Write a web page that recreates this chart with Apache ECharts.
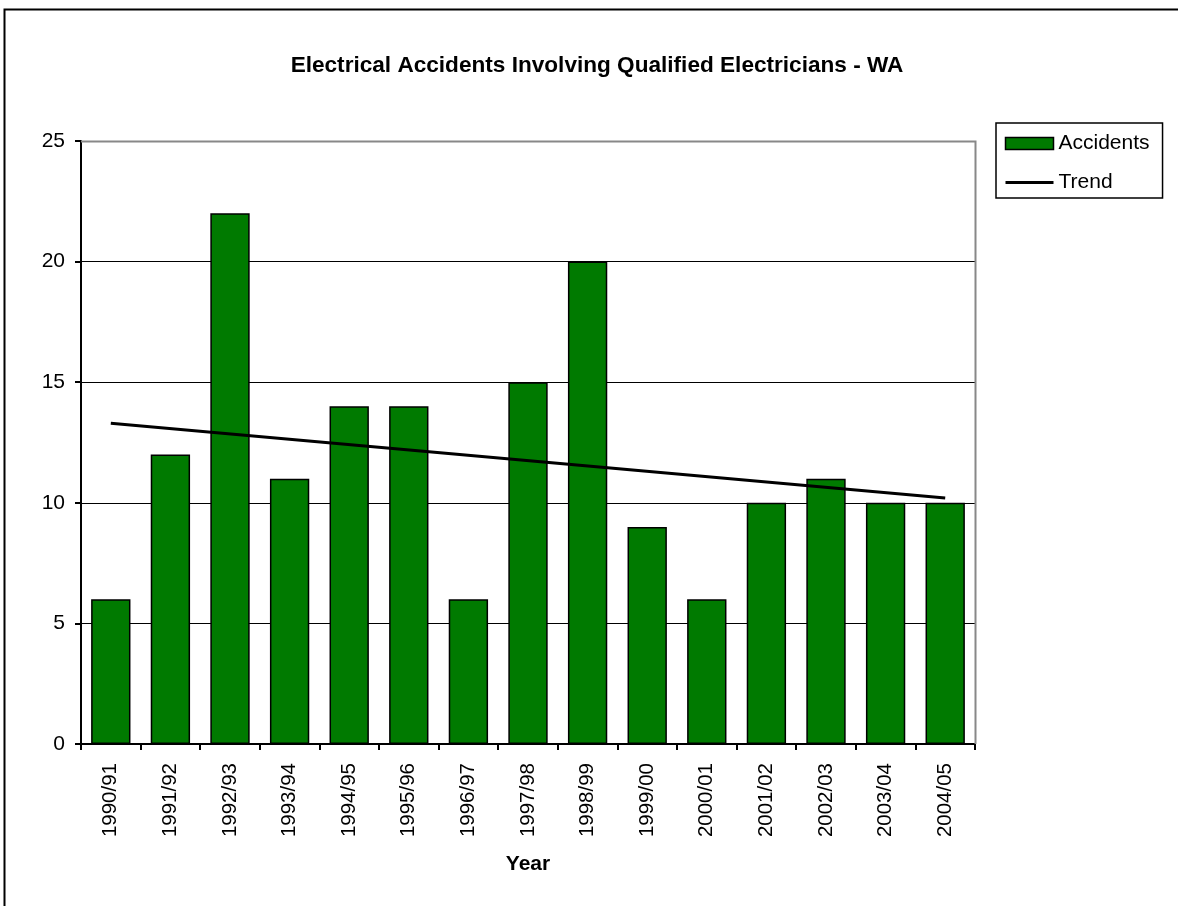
<!DOCTYPE html>
<html>
<head>
<meta charset="utf-8">
<script src="https://cdn.jsdelivr.net/npm/echarts@6/dist/echarts.min.js"></script>
<style>
  html, body { margin: 0; padding: 0; background: #fff; }
  #chart { width: 1178px; height: 906px; }
</style>
</head>
<body>
<div id="chart"></div>
<script>
// Financial years on the category axis
const years = ['1990/91', '1991/92', '1992/93', '1993/94', '1994/95', '1995/96', '1996/97',
  '1997/98', '1998/99', '1999/00', '2000/01', '2001/02', '2002/03', '2003/04', '2004/05'];

// Accidents per year
const accidents = [6, 12, 22, 11, 14, 14, 6, 15, 20, 9, 6, 10, 11, 10, 10];

// Straight trend line: start and end values
const trendEnds = [13.3, 10.2];

// Value axis ticks
const yTicks = [0, 5, 10, 15, 20, 25];

const FONT = 'Liberation Sans, Arial, sans-serif';

const chart = echarts.init(document.getElementById('chart'), null, { renderer: 'canvas' });

chart.setOption({
  animation: false,
  backgroundColor: '#ffffff',
  title: {
    text: 'Electrical Accidents Involving Qualified Electricians - WA',
    left: 592,
    top: 49,
    textAlign: 'center',
    textStyle: { fontFamily: FONT, fontSize: 22.6, fontWeight: 'bold', color: '#000' }
  },
  graphic: [
    {
      type: 'rect',
      shape: { x: 4.5, y: 9.5, width: 1200, height: 1000 },
      style: { fill: 'none', stroke: '#000', lineWidth: 2 },
      silent: true
    },
    {
      // plot area frame (top and right edges in grey)
      type: 'polyline',
      shape: { points: [[81, 141.5], [975.5, 141.5], [975.5, 744]] },
      style: { stroke: '#888', lineWidth: 2, fill: 'none' },
      z: 5,
      silent: true
    }
  ],
  legend: {
    left: 996,
    top: 123,
    orient: 'vertical',
    padding: [10, 13, 5, 8],
    itemGap: 18,
    itemWidth: 48,
    itemHeight: 12,
    borderColor: '#000',
    borderWidth: 1.5,
    borderRadius: 0,
    lineStyle: { width: 3, color: '#000' },
    textStyle: { fontFamily: FONT, fontSize: 21, color: '#000' },
    data: [
      { name: 'Accidents', icon: 'rect', itemStyle: { color: '#007a00', borderColor: '#000', borderWidth: 1.5 } },
      { name: 'Trend', itemStyle: { opacity: 0 } }
    ]
  },
  grid: { left: 81, top: 141, right: 203, bottom: 162, containLabel: false },
  xAxis: {
    type: 'category',
    data: years,
    name: 'Year',
    nameLocation: 'middle',
    nameGap: 110,
    nameTextStyle: { fontFamily: FONT, fontSize: 21, fontWeight: 'bold', color: '#000' },
    axisLine: { lineStyle: { color: '#000', width: 2 } },
    axisTick: { show: true, alignWithLabel: false, length: 6, lineStyle: { color: '#000', width: 2 } },
    axisLabel: { rotate: 90, margin: 19, fontFamily: FONT, fontSize: 20.5, color: '#000' },
    splitLine: { show: false }
  },
  yAxis: {
    type: 'value',
    min: yTicks[0],
    max: yTicks[yTicks.length - 1],
    interval: yTicks[1] - yTicks[0],
    axisLine: { show: true, lineStyle: { color: '#000', width: 2 } },
    axisTick: { show: true, length: 6, lineStyle: { color: '#000', width: 2 } },
    axisLabel: { margin: 16, fontFamily: FONT, fontSize: 21, color: '#000' },
    splitLine: { show: true, lineStyle: { color: '#000', width: 1.2 } }
  },
  series: [
    {
      name: 'Accidents',
      type: 'bar',
      data: accidents,
      barCategoryGap: '34%',
      itemStyle: { color: '#007a00', borderColor: '#000', borderWidth: 1.5 },
      z: 2
    },
    {
      name: 'Trend',
      type: 'line',
      data: [[years[0], trendEnds[0]], [years[years.length - 1], trendEnds[1]]],
      symbol: 'none',
      lineStyle: { color: '#000', width: 3 },
      itemStyle: { color: '#000' },
      z: 4
    }
  ]
});
</script>
</body>
</html>
